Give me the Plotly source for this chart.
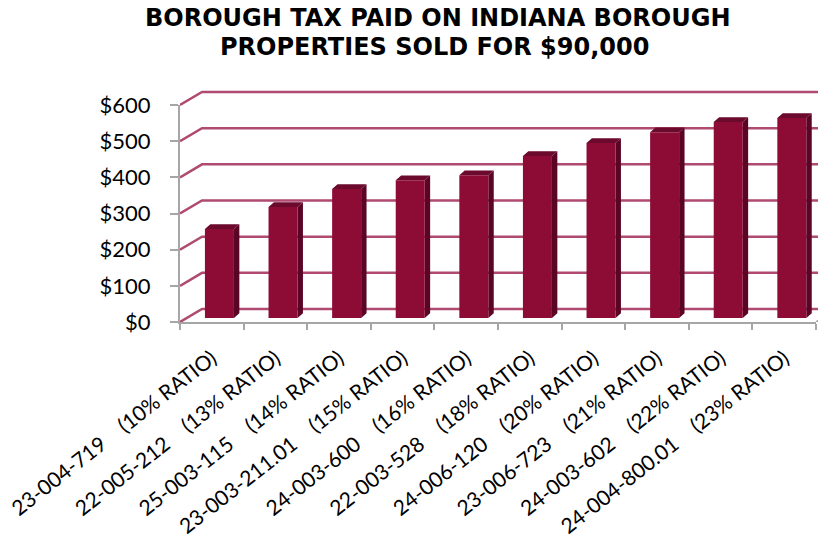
import plotly.graph_objects as go

NBSP = "\u00a0"
PARCELS = ["23-004-719", "22-005-212", "25-003-115", "23-003-211.01", "24-003-600",
           "22-003-528", "24-006-120", "23-006-723", "24-003-602", "24-004-800.01"]
RATIOS = [10, 13, 14, 15, 16, 18, 20, 21, 22, 23]
TAX_PAID = [246, 307, 357, 381, 395, 448, 484, 514, 542, 553]
GRID_VALUES = [0, 100, 200, 300, 400, 500, 600]
TITLE_LINES = ["BOROUGH TAX PAID ON INDIANA BOROUGH", "PROPERTIES SOLD FOR $90,000"]

FONT = "Lato, 'Open Sans', sans-serif"
TITLE_FONT = "'DejaVu Sans', sans-serif"
BAR_FRONT = "#8c0c36"
BAR_SIDE = "#5a0525"
BAR_TOP = "#6b0a2c"
GRID_COLOR = "#b04a70"
AXIS_COLOR = "#a6a6a6"

# fake 3D depth, in axis units
WALL_DX = 0.346
WALL_DY = 36
BAR_WIDTH = 0.456
BAR_SHIFT = 0.12
BAR_BASE = 11
FACE_DX = 0.085
FACE_DY = 13

# the page body adds an 8px margin, so the frame is laid out 8px up and left
PAGE_MARGIN = 8
WIDTH, HEIGHT = 826 - PAGE_MARGIN, 536 - PAGE_MARGIN
LEFT, FRONT_TOP, FRONT_BOTTOM = 180 - PAGE_MARGIN, 105 - PAGE_MARGIN, 322 - PAGE_MARGIN
BACK_TOP = 85 - PAGE_MARGIN
FRONT_W, FRONT_H = 636, FRONT_BOTTOM - FRONT_TOP
BACK_W, BACK_H = WIDTH - LEFT, FRONT_BOTTOM - BACK_TOP

categories = [f"{p}{NBSP}{NBSP}{NBSP}{NBSP}({r}% RATIO)" for p, r in zip(PARCELS, RATIOS)]
positions = list(range(len(categories)))

fig = go.Figure()

# back wall grid, with the diagonal coming off the front axis
for v in GRID_VALUES:
    fig.add_trace(go.Scatter(
        x=[-0.5, -0.5 + WALL_DX, 9.5 + WALL_DX],
        y=[v, v + WALL_DY, v + WALL_DY],
        mode="lines", line=dict(color=GRID_COLOR, width=2.5),
        hoverinfo="skip", showlegend=False,
    ))

# floor edge on the right
fig.add_trace(go.Scatter(
    x=[9.5, 9.5 + WALL_DX], y=[0, WALL_DY],
    mode="lines", line=dict(color=AXIS_COLOR, width=2),
    hoverinfo="skip", showlegend=False,
))

# side and top faces of the bars
side_x, side_y, top_x, top_y = [], [], [], []
for i, v in zip(positions, TAX_PAID):
    left = i + BAR_SHIFT - BAR_WIDTH / 2
    right = i + BAR_SHIFT + BAR_WIDTH / 2
    top = v + BAR_BASE
    side_x += [right, right + FACE_DX, right + FACE_DX, right, None]
    side_y += [BAR_BASE, BAR_BASE + FACE_DY, top + FACE_DY, top, None]
    top_x += [left, left + FACE_DX, right + FACE_DX, right, None]
    top_y += [top, top + FACE_DY, top + FACE_DY, top, None]
fig.add_trace(go.Scatter(
    x=side_x, y=side_y, mode="lines", fill="toself", fillcolor=BAR_SIDE,
    line=dict(color=BAR_SIDE, width=0), hoverinfo="skip", showlegend=False,
))
fig.add_trace(go.Scatter(
    x=top_x, y=top_y, mode="lines", fill="toself", fillcolor=BAR_TOP,
    line=dict(color=BAR_TOP, width=0), hoverinfo="skip", showlegend=False,
))

# front faces and the visible axes live on a second subplot on top of the back layer
fig.add_trace(go.Bar(
    x=categories, y=TAX_PAID, base=BAR_BASE,
    width=BAR_WIDTH, offset=BAR_SHIFT - BAR_WIDTH / 2,
    marker=dict(color=BAR_FRONT, line_width=0),
    xaxis="x2", yaxis="y2", showlegend=False,
))

fig.update_layout(
    template="none",
    width=WIDTH, height=HEIGHT, autosize=False,
    margin=dict(l=LEFT, r=0, t=BACK_TOP, b=HEIGHT - FRONT_BOTTOM),
    paper_bgcolor="white", plot_bgcolor="rgba(0,0,0,0)",
    # back layer, same scale as the front plane
    xaxis=dict(
        domain=[0, 1], anchor="y", visible=False, automargin=False,
        range=[-0.5, -0.5 + 10 * BACK_W / FRONT_W],
    ),
    yaxis=dict(
        domain=[0, 1], anchor="x", visible=False, automargin=False,
        range=[0, 600 * BACK_H / FRONT_H],
    ),
    xaxis2=dict(
        type="category", domain=[0, FRONT_W / BACK_W], anchor="y2",
        categoryorder="array", categoryarray=categories,
        range=[-0.5, 9.5], tickson="boundaries", automargin=False,
        tickangle=-38, ticks="outside", ticklen=6, tickcolor=AXIS_COLOR, tickwidth=2,
        ticklabelstandoff=14,
        showline=True, linecolor=AXIS_COLOR, linewidth=2, showgrid=False,
        tickfont=dict(family=FONT, size=21, color="black"),
    ),
    yaxis2=dict(
        domain=[0, FRONT_H / BACK_H], anchor="x2", range=[0, 600],
        tick0=0, dtick=100, tickprefix="$", automargin=False,
        ticks="outside", ticklen=8, tickcolor=AXIS_COLOR, tickwidth=2,
        ticklabelstandoff=15,
        showline=True, linecolor=AXIS_COLOR, linewidth=2, showgrid=False,
        zeroline=False, tickfont=dict(family=FONT, size=22, color="black"),
    ),
    showlegend=False,
)

# two annotations rather than a title, the line spacing is tighter than plotly's <br>
for line, x_px, y_px in zip(TITLE_LINES, [437, 434], [18, 47]):
    fig.add_annotation(
        text=line, xref="paper", yref="paper", showarrow=False,
        x=(x_px - PAGE_MARGIN - LEFT) / BACK_W, xanchor="center",
        y=1 + (BACK_TOP - (y_px - PAGE_MARGIN)) / BACK_H, yanchor="middle",
        font=dict(family=TITLE_FONT, size=24, color="black", weight="bold"),
    )

fig.write_html("out.html")
